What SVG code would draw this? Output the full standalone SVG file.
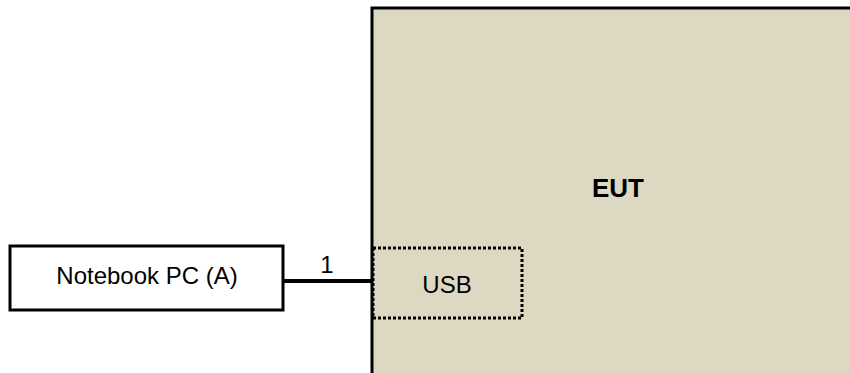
<svg xmlns="http://www.w3.org/2000/svg" width="850" height="373" viewBox="0 0 850 373">
<style>
text{font-family:"Liberation Sans",Arial,sans-serif;fill:#000;font-size:24px}
.box{stroke:#000;stroke-width:3}
</style>
<rect width="850" height="373" fill="#fff"/>
<g id="eut">
<rect class="box" x="372" y="8" width="490" height="380" fill="#DDD8C2"/>
<text x="618" y="197" font-weight="bold" text-anchor="middle" style="font-size:26px">EUT</text>
</g>
<g id="usb">
<rect x="373" y="248" width="149" height="70" fill="none" stroke="#000" stroke-width="3" stroke-dasharray="3,2"/>
<text x="447" y="293" text-anchor="middle">USB</text>
</g>
<g id="notebook">
<rect class="box" x="10" y="246" width="273" height="64" fill="#fff"/>
<text x="147" y="284" text-anchor="middle">Notebook PC (A)</text>
</g>
<g id="connectors">
<line x1="283" y1="281" x2="372" y2="281" stroke="#000" stroke-width="4"/>
<text x="327" y="273" text-anchor="middle">1</text>
</g>
</svg>
